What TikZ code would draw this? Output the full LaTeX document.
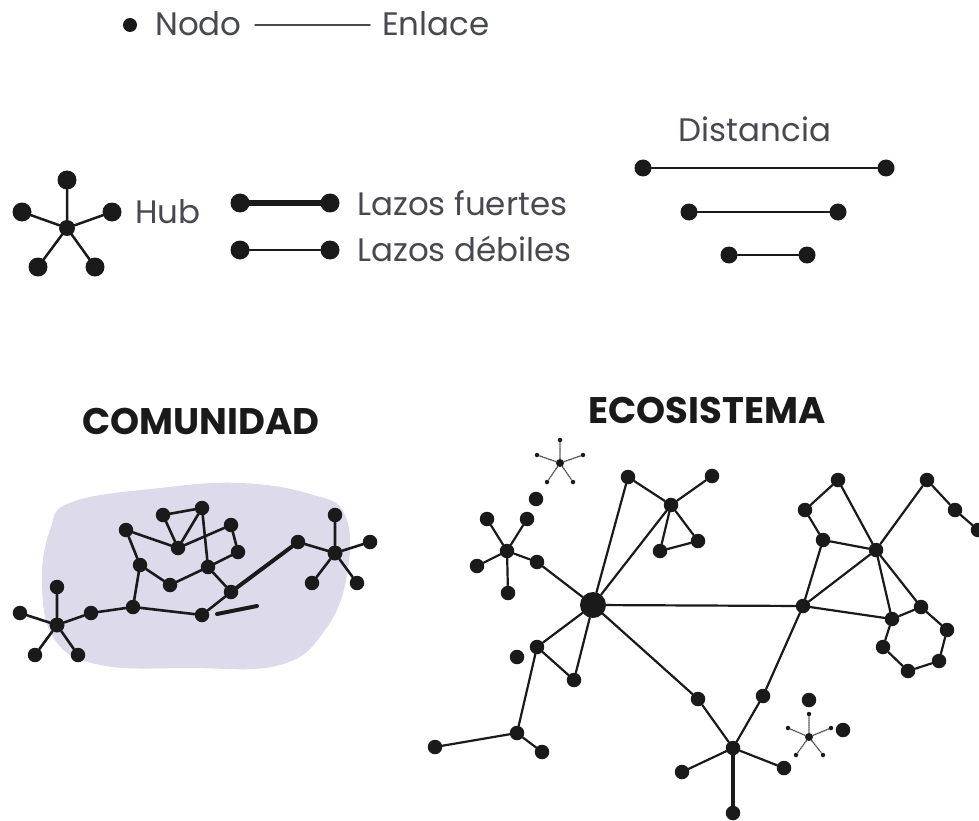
\documentclass[tikz,border=0pt]{standalone}
\usepackage{fontspec}
\setmainfont{Poppins}
\usetikzlibrary{positioning}
\definecolor{blob}{RGB}{221,219,235}
\definecolor{ink}{RGB}{26,26,26}
\definecolor{txt}{RGB}{72,72,80}
\tikzset{
  nd/.style={circle,fill=ink,inner sep=0pt,minimum size=14.5pt},
  lgnd/.style={nd,minimum size=19pt},
  hubnd/.style={nd,minimum size=26pt},
  tnd/.style={circle,fill=ink,inner sep=0pt,minimum size=4.5pt},
  lk/.style={draw=ink,line width=2.2pt},
  clk/.style={draw=ink,line width=2.6pt},
  strong/.style={draw=ink,line width=4.5pt},
  faint/.style={draw=ink!75,line width=1.3pt,densely dotted},
  lbl/.style={font=\fontsize{32.5}{36}\selectfont,text=txt,inner sep=0pt,anchor=base west},
  ttl/.style={font=\fontsize{37}{42}\selectfont\bfseries,text=ink,inner sep=0pt,anchor=base},
  every picture/.style={line cap=round,line join=round}}

\begin{document}
\begin{tikzpicture}[x=1pt,y=-1pt]
  \useasboundingbox (0,0) rectangle (979,821);
  % leyenda
  \node[nd,minimum size=14pt] (nodo) at (130,25){};
  \node[lbl] (tnodo) at (155,36){Nodo};
  \coordinate (en1) at (255,25); \coordinate (en2) at (370,25);
  \draw[draw=txt,line width=1.5pt] (en1)--(en2);
  \node[lbl] (tenl) at (382,36){Enlace};
  \node[nd,minimum size=16pt] (hub) at (67,228){};
  \node[lgnd] (hu1) at (67,180){}; \node[lgnd] (hu2) at (22,212){};
  \node[lgnd] (hu3) at (112,212){}; \node[lgnd] (hu4) at (38,267){};
  \node[lgnd] (hu5) at (95,267){};
  \draw[lk,line width=2.5pt] (hub)--(hu1) (hub)--(hu2) (hub)--(hu3) (hub)--(hu4) (hub)--(hu5);
  \node[lbl] (thub) at (135,223){Hub};
  \node[lgnd] (fu1) at (240,203){}; \node[lgnd] (fu2) at (330,203){};
  \draw[strong,line width=5.5pt] (fu1)--(fu2);
  \node[lbl] (tfu) at (357,215){Lazos fuertes};
  \node[lgnd] (de1) at (240,250){}; \node[lgnd] (de2) at (330,250){};
  \draw[lk] (de1)--(de2);
  \node[lbl] (tde) at (357,261){Lazos débiles};
  \node[lbl,anchor=base] (tdis) at (755,142){Distancia};
  \node[nd,minimum size=17pt] (di1) at (643,168){}; \node[nd,minimum size=17pt] (di2) at (886,168){};
  \node[nd,minimum size=17pt] (di3) at (689,212){}; \node[nd,minimum size=17pt] (di4) at (838,212){};
  \node[nd,minimum size=17pt] (di5) at (729,255){}; \node[nd,minimum size=17pt] (di6) at (807,255){};
  \draw[lk] (di1)--(di2) (di3)--(di4) (di5)--(di6);

  % comunidad
  \node[ttl] (tcom) at (201,434){COMUNIDAD};
  \fill[blob] plot[smooth cycle,tension=0.7] coordinates {(42,585) (50,530) (72,502)
    (160,488) (240,483) (310,494) (345,515) (347,575) (325,630) (280,665) (190,668)
    (100,665) (55,640)};
  \node[nd,minimum size=15pt] (cL) at (57,625){};
  \node[nd] (cL1) at (20,613){}; \node[nd] (cL2) at (57,587){};
  \node[nd] (cL3) at (35,655){}; \node[nd] (cL4) at (78,655){};
  \node[nd] (c1) at (91,613){};  \node[nd] (c2) at (133,607){};
  \node[nd] (c3) at (202,615){}; \node[nd] (c4) at (140,565){};
  \node[nd] (c5) at (126,530){}; \node[nd] (c6) at (170,585){};
  \node[nd] (c7) at (208,567){}; \node[nd] (c8) at (178,548){};
  \node[nd] (c9) at (163,515){}; \node[nd] (c10) at (202,508){};
  \node[nd] (c11) at (231,525){}; \node[nd] (c12) at (238,552){};
  \node[nd] (c13) at (231,592){}; \node[nd] (c14) at (298,542){};
  \node[nd,minimum size=15pt] (cR) at (335,553){};
  \node[nd] (cR1) at (335,515){}; \node[nd] (cR2) at (370,542){};
  \node[nd] (cR3) at (312,583){}; \node[nd] (cR4) at (357,583){};
  \coordinate (cs1) at (217,614); \coordinate (cs2) at (257,606);
  \draw[clk] (cL)--(cL1) (cL)--(cL2) (cL)--(cL3) (cL)--(cL4);
  \draw[clk] (cL)--(c1)--(c2)--(c3)--(c13)--(c7)--(c6)--(c4)--(c2);
  \draw[clk] (c4)--(c5)--(c8)--(c9)--(c10)--(c8) (c10)--(c7);
  \draw[clk] (c8)--(c11)--(c12)--(c7);
  \draw[strong,line width=4pt] (c13)--(c14) (cs1)--(cs2);
  \draw[clk] (c14)--(cR) (cR)--(cR1) (cR)--(cR2) (cR)--(cR3) (cR)--(cR4);

  % ecosistema
  \node[ttl] (teco) at (707,423){ECOSISTEMA};
  \node[tnd,minimum size=8pt] (t1) at (560,463){};
  \node[tnd] (t1a) at (560,440){}; \node[tnd] (t1b) at (537,455){};
  \node[tnd] (t1c) at (583,455){}; \node[tnd] (t1d) at (547,482){};
  \node[tnd] (t1e) at (573,482){};
  \draw[faint] (t1)--(t1a) (t1)--(t1b) (t1)--(t1c) (t1)--(t1d) (t1)--(t1e);
  \node[nd] (e0) at (536,499){};
  \node[nd] (h1) at (507,551){};
  \node[nd] (h1a) at (487,519){}; \node[nd] (h1b) at (527,519){};
  \node[nd] (h1c) at (477,566){}; \node[nd] (h1d) at (508,593){};
  \node[nd] (h1e) at (537,562){};
  \node[hubnd] (hb) at (593,605){};
  \node[nd] (eA) at (628,477){}; \node[nd] (h2) at (671,505){};
  \node[nd] (h2a) at (712,476){}; \node[nd] (h2b) at (660,551){};
  \node[nd] (h2c) at (698,541){};
  \node[nd] (eB) at (537,647){}; \node[nd] (eC) at (574,680){};
  \node[nd] (e1) at (517,657){}; \node[nd] (eD) at (517,733){};
  \node[nd] (eD1) at (435,747){}; \node[nd] (eD2) at (542,752){};
  \node[nd] (eE) at (698,699){}; \node[nd] (h3) at (733,748){};
  \node[nd] (h3a) at (682,772){}; \node[nd] (h3b) at (784,768){};
  \node[nd] (h3c) at (733,813){};
  \node[nd] (eX) at (803,606){}; \node[nd] (eY) at (763,696){};
  \node[tnd,minimum size=8pt] (t2) at (809,737){};
  \node[tnd] (t2a) at (809,714){}; \node[tnd] (t2b) at (788,728){};
  \node[tnd] (t2c) at (831,728){}; \node[tnd] (t2d) at (796,755){};
  \node[tnd] (t2e) at (823,755){};
  \draw[faint] (t2)--(t2a) (t2)--(t2b) (t2)--(t2c) (t2)--(t2d) (t2)--(t2e);
  \node[nd] (e2) at (809,700){}; \node[nd] (e3) at (843,730){};
  \node[nd] (eF) at (823,540){}; \node[nd] (eG) at (805,510){};
  \node[nd] (eH) at (838,480){}; \node[nd] (h4) at (876,550){};
  \node[nd] (eI) at (927,480){}; \node[nd] (eJ) at (955,510){};
  \node[nd] (eK) at (978,530){};
  \node[nd] (eL) at (892,619){}; \node[nd] (eM) at (921,607){};
  \node[nd] (eN) at (947,630){}; \node[nd] (eO) at (939,661){};
  \node[nd] (eP) at (908,671){}; \node[nd] (eQ) at (883,647){};
  \draw[lk] (h1)--(h1a) (h1)--(h1b) (h1)--(h1c) (h1)--(h1d) (h1)--(h1e)--(hb);
  \draw[lk] (hb)--(eA)--(h2)--(hb) (h2)--(h2a) (h2)--(h2b)--(h2c)--(h2);
  \draw[lk] (hb)--(eX) (hb)--(eB)--(eC)--(hb) (eB)--(eD)--(eD1) (eD)--(eD2);
  \draw[lk] (hb)--(eE)--(h3) (eX)--(eY)--(h3) (h3)--(h3a) (h3)--(h3b);
  \draw[strong,line width=4pt] (h3)--(h3c);
  \draw[lk] (eX)--(eF)--(eG)--(eH)--(h4)--(eF) (eX)--(h4)--(eI)--(eJ)--(eK);
  \draw[lk] (h4)--(eL) (eX)--(eL) (h4)--(eM);
  \draw[lk] (eL)--(eM)--(eN)--(eO)--(eP)--(eQ)--(eL);
\end{tikzpicture}
\end{document}
